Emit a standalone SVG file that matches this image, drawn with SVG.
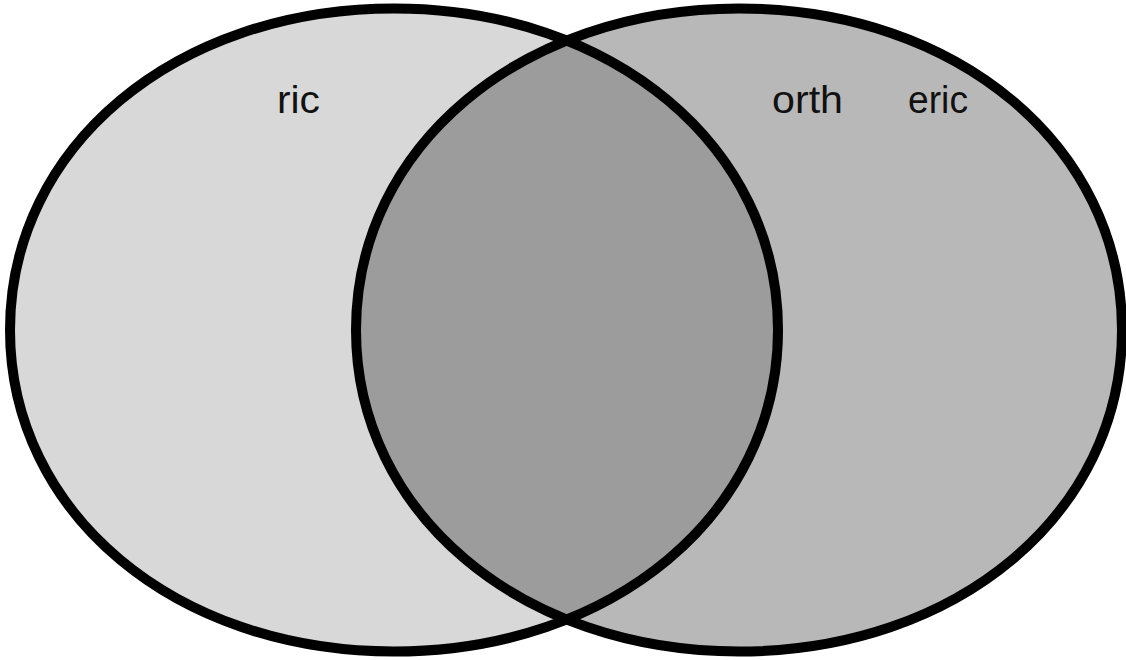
<svg xmlns="http://www.w3.org/2000/svg" width="1126" height="660" viewBox="0 0 1126 660">
  <style>
    .set { fill: #000; stroke: #000; stroke-width: 10; }
    .a { fill-opacity: 0.153; }
    .b { fill-opacity: 0.278; }
    .lbl { font-family: "Liberation Sans", "DejaVu Sans", sans-serif; font-size: 38px; fill: #111; }
  </style>
  <rect width="1126" height="660" fill="#fff"/>
  <g id="set-left">
    <path class="set a" d="M778,330 C778,513.3 612.9,651.5 394,651.5 C175.1,651.5 10,513.3 10,330 C10,146.7 175.1,8.5 394,8.5 C612.9,8.5 778,146.7 778,330 Z"/>
  </g>
  <g id="set-right">
    <path class="set b" d="M1122,330 C1122,513.3 957.3,651.5 739,651.5 C520.7,651.5 356,513.3 356,330 C356,146.7 520.7,8.5 739,8.5 C957.3,8.5 1122,146.7 1122,330 Z"/>
  </g>
  <g id="labels">
    <text class="lbl" x="277" y="113" textLength="43" lengthAdjust="spacingAndGlyphs">ric</text>
    <text class="lbl" x="772" y="113" textLength="71" lengthAdjust="spacingAndGlyphs">orth</text>
    <text class="lbl" x="908" y="113" textLength="60" lengthAdjust="spacingAndGlyphs">eric</text>
  </g>
  <g id="connectors"></g>
</svg>
